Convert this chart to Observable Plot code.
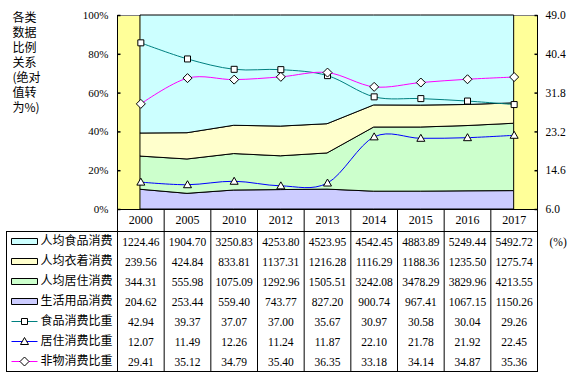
<!DOCTYPE html>
<html><head><meta charset="utf-8">
<script src="https://cdn.jsdelivr.net/npm/d3@7"></script>
<script src="https://cdn.jsdelivr.net/npm/@observablehq/plot@0.6"></script>
<style>
body{margin:0;background:#fff;}
#wrap{position:relative;width:576px;height:376px;overflow:hidden;background:#fff;}
#wrap svg{position:absolute;left:0;}
</style></head><body><div id="wrap"></div>
<script>
// ---------- data ----------
const years = ["2000","2005","2010","2012","2013","2014","2015","2016","2017"];
const food = [1224.46,1904.70,3250.83,4253.80,4523.95,4542.45,4883.89,5249.44,5492.72];
const clothing = [239.56,424.84,833.81,1137.31,1216.28,1116.29,1188.36,1235.50,1275.74];
const housing = [344.31,555.98,1075.09,1292.96,1505.51,3242.08,3478.29,3829.96,4213.55];
const goods = [204.62,253.44,559.40,743.77,827.20,900.74,967.41,1067.15,1150.26];
const foodRatio = [42.94,39.37,37.07,37.00,35.67,30.97,30.58,30.04,29.26];
const housingRatio = [12.07,11.49,12.26,11.24,11.87,22.10,21.78,21.92,22.45];
const nonMaterialRatio = [29.41,35.12,34.79,35.40,36.35,33.18,34.14,34.87,35.36];
const leftTicks = [0,0.2,0.4,0.6,0.8,1.0];
const rightTicks = [6.0,14.6,23.2,31.8,40.4,49.0];
const titleLines = ["各类","数据","比例","关系","(绝对","值转","为%)"];
const rowNames = ["人均食品消费","人均衣着消费","人均居住消费","生活用品消费","食品消费比重","居住消费比重","非物消费比重"];
const unitLabel = "(%)";

// ---------- styles ----------
const serif = "'Liberation Serif','Times New Roman',serif";
const cjk = "'Noto Sans CJK SC','Noto Sans CJK JP',sans-serif";
const rmin = rightTicks[0], rmax = rightTicks[rightTicks.length-1];
const toFrac = v => (v - rmin) / (rmax - rmin);
const W = 576, ML = 117, MR = 39;
const xDomain = [-0.5, years.length - 0.5];
const xRange = [ML, W - MR];
const bounds = d3.range(years.length + 1).map(i => i - 0.5);
const baseStyle = {background:"transparent", overflow:"visible"};

const sym = fn => ({draw: fn});
const squareSym = sym(c => { c.rect(-3,-3,6,6); });
const triSym = sym(c => { c.moveTo(0,-4); c.lineTo(4,3); c.lineTo(-4,3); c.closePath(); });
const diaSym = sym(c => { c.moveTo(0,-4.5); c.lineTo(4.5,0); c.lineTo(0,4.5); c.lineTo(-4.5,0); c.closePath(); });
const rectSym = sym(c => { c.rect(-13,-3,26,6); });
const lineSym = sym(c => { c.moveTo(-13,0); c.lineTo(13,0); });
const tickR = sym(c => { c.moveTo(0,0); c.lineTo(3,0); });
const tickL = sym(c => { c.moveTo(-3,0); c.lineTo(0,0); });

const areaSeries = [
  {name: rowNames[3], values: goods, color: "#CCCCFF"},
  {name: rowNames[2], values: housing, color: "#CCFFCC"},
  {name: rowNames[1], values: clothing, color: "#FFFFCC"},
  {name: rowNames[0], values: food, color: "#CCFFFF"}
];
const lineSeries = [
  {name: rowNames[4], values: foodRatio, color: "#008080", symbol: squareSym},
  {name: rowNames[5], values: housingRatio, color: "#0000FF", symbol: triSym},
  {name: rowNames[6], values: nonMaterialRatio, color: "#FF00FF", symbol: diaSym}
];
const areaRows = areaSeries.flatMap(s => s.values.map((v,i) => ({i, v, name: s.name})));

const wrap = document.getElementById("wrap");

// ---------- main chart ----------
const chart = Plot.plot({
  width: W, height: 210,
  marginTop: 15, marginBottom: 1, marginLeft: ML, marginRight: MR,
  style: baseStyle,
  x: {type: "linear", domain: xDomain, axis: null},
  y: {domain: [0,1], axis: null},
  color: {domain: areaSeries.map(s => s.name), range: areaSeries.map(s => s.color)},
  marks: [
    Plot.frame({fill: "#FFFF99"}),
    Plot.ruleY([1], {stroke: "#808080"}),
    Plot.areaY(areaRows, {x: "i", y: "v", z: "name", fill: "name", stroke: "black", strokeWidth: 1, offset: "normalize"}),
    Plot.ruleX([xDomain[0], xDomain[1]], {stroke: "black"}),
    Plot.ruleY([0], {stroke: "black"}),
    ...lineSeries.map(s => Plot.line(s.values.map((v,i) => ({i, f: toFrac(v)})),
      {x: "i", y: "f", stroke: s.color, strokeWidth: 1, curve: "cardinal"})),
    ...lineSeries.map(s => Plot.dot(s.values.map((v,i) => ({i, f: toFrac(v)})),
      {x: "i", y: "f", symbol: s.symbol, fill: "white", stroke: "black", strokeWidth: 1})),
    Plot.dot(leftTicks, {y: d => d, frameAnchor: "left", symbol: tickR, stroke: "black"}),
    Plot.dot(rightTicks, {y: d => toFrac(d), frameAnchor: "right", symbol: tickL, stroke: "black"}),
    Plot.axisY({anchor: "left", ticks: leftTicks, tickFormat: d => Math.round(d*100) + "%", tickSize: 0, tickPadding: 9, label: null, fontSize: 11, fontFamily: serif, fill: "black"}),
    Plot.axisY({anchor: "right", ticks: rightTicks.map(toFrac), tickFormat: d => (d*(rmax-rmin)+rmin).toFixed(1), tickSize: 0, tickPadding: 8, label: null, fontSize: 11.5, fontFamily: serif, fill: "black"}),
    Plot.text([titleLines.join("\n")], {frameAnchor: "top-left", dx: -105, dy: 47, textAnchor: "start", lineAnchor: "middle", lineHeight: 1.25, fontSize: 12, fontFamily: cjk, fill: "black"})
  ]
});
chart.style.top = "0px";
wrap.appendChild(chart);

// ---------- header row ----------
const header = Plot.plot({
  width: W, height: 23,
  marginTop: 0, marginBottom: 1, marginLeft: ML, marginRight: MR,
  style: baseStyle,
  x: {type: "linear", domain: xDomain, axis: null},
  marks: [
    Plot.ruleX(bounds, {stroke: "black"}),
    Plot.text(years, {x: (d,i) => i, frameAnchor: "middle", text: d => d, fontSize: 12, fontFamily: serif, fill: "black", dy: 0})
  ]
});
header.style.top = "209px";
wrap.appendChild(header);

// ---------- data table ----------
const tableRows = [food, clothing, housing, goods, foodRatio, housingRatio, nonMaterialRatio]
  .map((vals, k) => ({name: rowNames[k], values: vals}));
const cells = tableRows.flatMap(r => r.values.map((v,i) => ({name: r.name, i, v})));
const table = Plot.plot({
  width: W, height: 141,
  marginTop: 0, marginBottom: 1, marginLeft: 6, marginRight: MR,
  style: baseStyle,
  x: {type: "linear", domain: xDomain, range: xRange, axis: null},
  y: {type: "band", domain: rowNames, range: [0, 140], padding: 0, axis: null},
  marks: [
    Plot.frame({stroke: "black"}),
    Plot.ruleX(bounds, {stroke: "black"}),
    Plot.text(cells, {x: "i", y: "name", text: d => d.v.toFixed(2), fontSize: 11.5, fontFamily: serif, fill: "black", dy: 1}),
    ...areaSeries.map(s => Plot.dot([s.name], {y: d => d, frameAnchor: "left", dx: 18, symbol: rectSym, fill: s.color, stroke: "black", strokeWidth: 1})),
    ...lineSeries.map(s => Plot.dot([s.name], {y: d => d, frameAnchor: "left", dx: 18, symbol: lineSym, stroke: s.color, strokeWidth: 1})),
    ...lineSeries.map(s => Plot.dot([s.name], {y: d => d, frameAnchor: "left", dx: 18, symbol: s.symbol, fill: "white", stroke: "black", strokeWidth: 1})),
    Plot.text(rowNames, {y: d => d, text: d => d, frameAnchor: "left", dx: 34, textAnchor: "start", fontSize: 12, fontFamily: cjk, fill: "black"}),
    Plot.text([unitLabel], {y: () => rowNames[0], text: d => d, frameAnchor: "right", dx: 12, textAnchor: "start", fontSize: 11.5, fontFamily: serif, fill: "black", dy: 1})
  ]
});
table.style.top = "231px";
wrap.appendChild(table);
</script></body></html>
